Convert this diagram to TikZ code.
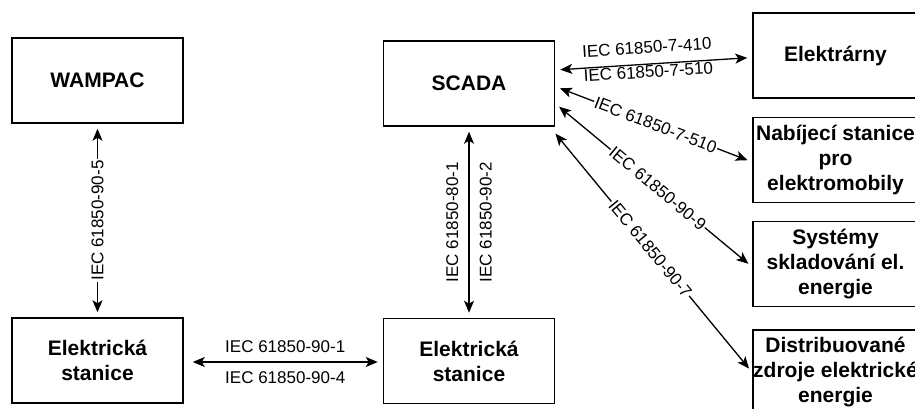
\documentclass[tikz,border=0pt]{standalone}
\usepackage{fontspec}
\setmainfont{Liberation Sans}
\usetikzlibrary{calc}
\usetikzlibrary{positioning}
\usetikzlibrary{arrows.meta}

\begin{document}
\begin{tikzpicture}[x=1pt,y=-1pt,>={Stealth[length=12pt,width=10pt,inset=3pt]},
 box/.style={draw,line width=1.5pt,minimum width=171pt,minimum height=85pt,align=center,inner sep=0pt,font=\fontsize{21}{25}\selectfont\bfseries},
 rbox/.style={box,minimum width=165pt},
 conn/.style={<->,line width=1.3pt,shorten <=5pt,shorten >=5pt},
 lbl/.style={font=\fontsize{17}{20}\selectfont,inner sep=1pt},
 onlbl/.style={lbl,fill=white}]

\useasboundingbox (0,0) rectangle (915,409);

% boxes
\node[box] (wampac) at (97.5,80.5) {WAMPAC};
\node[box] (scada) at (469,83.5) {SCADA};
\node[box] (sta1) at (97.5,360.5) {Elektrická\\stanice};
\node[box] (sta2) at (469,361) {Elektrická\\stanice};

\node[rbox] (elek) at (835.5,55.5) {Elektrárny};
\node[rbox] (nabij) at (835.5,160) {Nabíjecí stanice\\pro\\elektromobily};
\node[rbox] (syst) at (835.5,264) {Systémy\\skladování el.\\energie};
\node[rbox] (distr) at (835.5,372.5) {Distribuované\\zdroje elektrické\\energie};

% links
\draw[conn] (wampac) -- (sta1) node[midway,rotate=90,onlbl] {IEC 61850-90-5};
\draw[conn] (scada) -- (sta2)
  node[midway,rotate=90,lbl,anchor=south,inner sep=10pt] {IEC 61850-80-1}
  node[midway,rotate=90,lbl,anchor=north,inner sep=10pt] {IEC 61850-90-2};
\draw[conn] ($(sta1.east)+(4,1.5)$) -- ($(sta2.west)+(0,1)$)
  node[midway,lbl,anchor=south,inner sep=9pt] {IEC 61850-90-1}
  node[midway,lbl,anchor=north,inner sep=9pt] {IEC 61850-90-4};

\draw[conn] ($(scada.east)+(0,-13.5)$) -- ($(elek.west)+(0,2)$)
  node[pos=0.47,sloped,lbl,anchor=south,inner sep=10pt] {IEC 61850-7-410}
  node[pos=0.47,sloped,lbl,anchor=north] {IEC 61850-7-510};
\draw[conn] ($(scada.east)+(0,3)$) -- ($(nabij.west)+(0,2)$) node[pos=0.51,sloped,onlbl] {IEC 61850-7-510};
\draw[conn] ($(scada.east)+(0,20)$) -- ($(syst.west)+(0,3)$) node[pos=0.52,sloped,onlbl] {IEC 61850-90-9};
\draw[conn] ($(scada.south east)+(-3,3)$) -- (distr.west) node[pos=0.49,sloped,onlbl] {IEC 61850-90-7};
\end{tikzpicture}
\end{document}
